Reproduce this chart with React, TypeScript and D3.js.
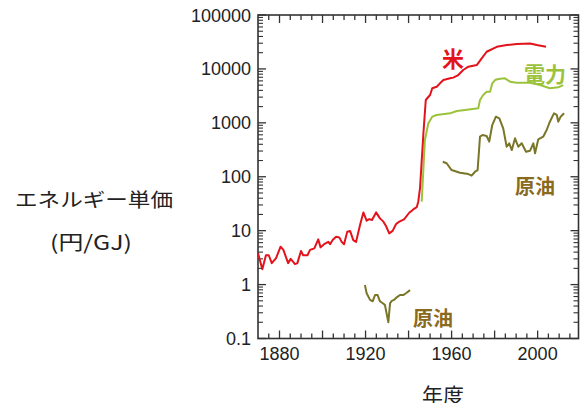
import React from "react";
import * as d3 from "d3";

const riceYears = [1870,1872,1873.7,1875,1876.4,1878.4,1880.5,1881.8,1884,1885.2,1887.2,1888.3,1890,1891,1893,1894.2,1896.2,1898,1899.1,1900.7,1902.7,1903.5,1904.7,1906.3,1907.8,1908.9,1910,1911.5,1912.8,1914.3,1915.6,1917.4,1919,1920.5,1921.7,1923,1924.9,1926.7,1928.3,1929.5,1931,1932.6,1934.2,1935.7,1937.9,1940.3,1942.2,1943.8,1944.5,1945.3,1946.9,1948,1950,1951,1953.1,1954.6,1956.2,1959.3,1960.8,1963.1,1965.4,1967.8,1971.7,1974,1976.3,1981,1985.6,1990.3,1996.5,1999.6,2003.9];
const riceValues = [3.85,1.92,3.5,3.5,2.5,3.1,5.05,4.4,2.5,3.0,2.4,2.5,4.2,3.5,3.5,4.4,4.7,6.9,4.9,5.6,6.2,5.6,6.7,7.7,7.5,6.2,5.6,9.6,9.9,6.7,6.2,12.6,21.8,15.3,16.4,15.8,21.8,16.9,14.7,12.2,8.9,9.9,13.3,14.7,16.2,21.5,24.8,27.3,34.5,60,640,2650,3280,4370,4680,5400,6220,6700,6900,7700,9550,11000,11800,15700,20800,25700,27700,29000,29700,27700,25700];

const elecYears = [1946.1,1947.6,1949.2,1951,1953,1959.3,1962.4,1965.4,1972.4,1973.2,1974.7,1976.3,1977.9,1978.9,1980.2,1981.7,1984.8,1987.2,1990.3,1996.5,2001.1,2005.7,2009.6,2011.9];
const elecValues = [34.5,480,980,1300,1400,1500,1660,1720,1860,2650,3280,3780,3780,5400,6220,6500,6700,5800,5550,5550,5020,4370,4560,5020];

const oilPreYears = [1919.7,1920.5,1922.1,1923.3,1924.4,1925.6,1926.7,1928,1929,1930.6,1931.4,1932.2,1933.2,1934.5,1936,1937.5,1938.8,1940.7];
const oilPreValues = [0.98,0.69,0.52,0.49,0.64,0.64,0.49,0.45,0.42,0.2,0.45,0.5,0.52,0.58,0.64,0.64,0.69,0.79];

const oilPostYears = [1955.9,1957.7,1960,1963.9,1967.8,1969.3,1970.9,1972.1,1973.2,1974.4,1976.3,1977.5,1978.9,1980.6,1982.2,1984,1985.6,1986.8,1988,1989.5,1991,1992.6,1994.6,1996.5,1998,1998.8,2000.3,2002.6,2004.2,2005.7,2007.6,2008.9,2009.6,2010.7,2012.3];
const oilPostValues = [190,178,133,119,112,105,124,133,553,594,570,447,910,1300,1210,790,360,417,313,516,360,417,291,304,417,272,494,553,736,1050,1500,1400,1050,1300,1500];

const yTickValues = [0.1, 1, 10, 100, 1000, 10000, 100000];
const yTickLabels = ["0.1", "1", "10", "100", "1000", "10000", "100000"];
const xLabelYears = [1880, 1920, 1960, 2000];

const FONT = "'Liberation Sans', Arial, sans-serif";
const JFONT = "'Noto Sans CJK JP', 'Noto Sans', sans-serif";

export default function App() {
  const left = 258, right = 578.5, top = 15, bottom = 338.5;
  const x = d3.scaleLinear().domain([1870, 2019]).range([left, right]);
  const y = d3.scaleLog().domain([0.1, 100000]).range([bottom, top]);

  const mk = (xs: number[], vs: number[]) =>
    d3.line<number>().x((_, i) => x(xs[i])).y((v) => y(v))(vs) || "";

  const xTicks = d3.range(1875, 2019, 5);
  const yMinor: number[] = [];
  for (let e = -1; e < 5; e++) for (let k = 2; k <= 9; k++) yMinor.push(k * Math.pow(10, e));

  const axisColor = "#333";
  return (
    <svg width={581} height={403} style={{ position: "absolute", left: 0, top: 0 }}>
      <rect width={581} height={403} fill="#fff" />
      {xTicks.map((t) => {
        const long = t % 20 === 0;
        const len = long ? 8 : 5;
        return (
          <g key={"xt" + t}>
            <line x1={x(t)} x2={x(t)} y1={bottom} y2={bottom - len} stroke={axisColor} strokeWidth={1.3} />
            <line x1={x(t)} x2={x(t)} y1={top} y2={top + len} stroke={axisColor} strokeWidth={1.3} />
          </g>
        );
      })}
      {yTickValues.map((t) => (
        <g key={"ytM" + t}>
          <line x1={left} x2={left + 8} y1={y(t)} y2={y(t)} stroke={axisColor} strokeWidth={1.3} />
          <line x1={right} x2={right - 8} y1={y(t)} y2={y(t)} stroke={axisColor} strokeWidth={1.3} />
        </g>
      ))}
      {yMinor.map((t) => (
        <g key={"ytm" + t}>
          <line x1={left} x2={left + 5} y1={y(t)} y2={y(t)} stroke={axisColor} strokeWidth={1.1} />
          <line x1={right} x2={right - 5} y1={y(t)} y2={y(t)} stroke={axisColor} strokeWidth={1.1} />
        </g>
      ))}
      <rect x={left} y={top} width={right - left} height={bottom - top} fill="none" stroke={axisColor} strokeWidth={1.6} />
      {yTickValues.map((t, i) => (
        <text key={"yl" + t} x={251} y={y(t) + 6.5} textAnchor="end" fontFamily={FONT} fontSize={18} fill="#222">
          {yTickLabels[i]}
        </text>
      ))}
      {xLabelYears.map((t) => (
        <text key={"xl" + t} x={x(t)} y={360} textAnchor="middle" fontFamily={FONT} fontSize={18} fill="#222">
          {t}
        </text>
      ))}
      <path d={mk(oilPreYears, oilPreValues)} fill="none" stroke="#7a7628" strokeWidth={2} strokeLinejoin="round" />
      <path d={mk(oilPostYears, oilPostValues)} fill="none" stroke="#7a7628" strokeWidth={2} strokeLinejoin="round" />
      <path d={mk(elecYears, elecValues)} fill="none" stroke="#9cc23c" strokeWidth={2} strokeLinejoin="round" />
      <path d={mk(riceYears, riceValues)} fill="none" stroke="#e3131b" strokeWidth={2} strokeLinejoin="round" />
      <text x={453} y={67} textAnchor="middle" fontFamily={JFONT} fontWeight="bold" fontSize={22} fill="#e3131b">米</text>
      <text x={545} y={82} textAnchor="middle" fontFamily={JFONT} fontWeight="bold" fontSize={21} fill="#9cc23c">電力</text>
      <text x={535} y={194} textAnchor="middle" fontFamily={JFONT} fontWeight="bold" fontSize={20} fill="#8a6a1c">原油</text>
      <text x={433} y={326} textAnchor="middle" fontFamily={JFONT} fontWeight="bold" fontSize={20} fill="#8a6a1c">原油</text>
      <text x={94} y={207} textAnchor="middle" fontFamily={JFONT} fontSize={19} fill="#222" textLength={158} lengthAdjust="spacingAndGlyphs">エネルギー単価</text>
      <text x={91} y={250} textAnchor="middle" fontFamily={JFONT} fontSize={20} fill="#222" textLength={82} lengthAdjust="spacingAndGlyphs">(円/GJ)</text>
      <text x={443} y={403} textAnchor="middle" fontFamily={JFONT} fontSize={21} fill="#222">年度</text>
    </svg>
  );
}
